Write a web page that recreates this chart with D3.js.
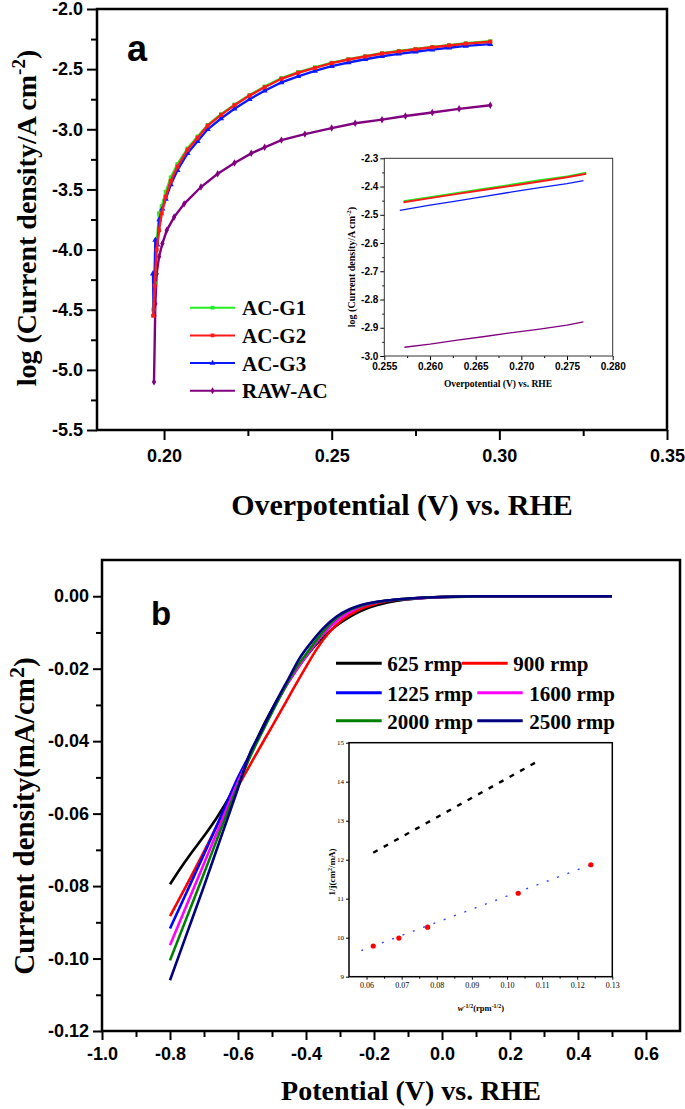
<!DOCTYPE html>
<html><head><meta charset="utf-8">
<script src="https://cdn.jsdelivr.net/npm/d3@7/dist/d3.min.js"></script>
<style>body{margin:0;background:#fff;}svg{display:block;background:#fff;}</style>
</head><body>
<svg id="c" width="685" height="1109"></svg>
<script>
// ---------- Panel a data ----------
const seriesA = ["AC-G1", "AC-G2", "AC-G3", "RAW-AC"];
const colorsA = ["#22ee22", "#ff1a1a", "#0a1aff", "#800080"];
const xTicksA = [0.20, 0.25, 0.30, 0.35];
const xMinorA = [0.225, 0.275, 0.325];
const yTicksA = [-5.5, -5.0, -4.5, -4.0, -3.5, -3.0, -2.5, -2.0];
const yMinorA = [-5.25, -4.75, -4.25, -3.75, -3.25, -2.75, -2.25];
const acG1 = [[0.1968,-4.50],[0.1972,-4.28],[0.1978,-3.95],[0.1985,-3.70],[0.1993,-3.64],[0.2005,-3.52],[0.2020,-3.40],[0.2040,-3.29],[0.2070,-3.16],[0.2100,-3.06],[0.2130,-2.965],[0.2170,-2.875],[0.2210,-2.795],[0.2255,-2.715],[0.2300,-2.645],[0.2350,-2.575],[0.2400,-2.525],[0.2450,-2.485],[0.2500,-2.447],[0.2550,-2.417],[0.2600,-2.392],[0.2650,-2.367],[0.2700,-2.349],[0.2750,-2.332],[0.2800,-2.315],[0.2850,-2.300],[0.2900,-2.285],[0.2973,-2.268]];
const acG2 = [[0.1968,-4.55],[0.1972,-4.30],[0.1978,-4.00],[0.1985,-3.84],[0.1993,-3.70],[0.2005,-3.56],[0.2020,-3.43],[0.2040,-3.31],[0.2070,-3.17],[0.2100,-3.07],[0.2130,-2.97],[0.2170,-2.88],[0.2210,-2.80],[0.2255,-2.72],[0.2300,-2.65],[0.2350,-2.58],[0.2400,-2.53],[0.2450,-2.49],[0.2500,-2.45],[0.2550,-2.42],[0.2600,-2.395],[0.2650,-2.37],[0.2700,-2.352],[0.2750,-2.335],[0.2800,-2.318],[0.2850,-2.303],[0.2900,-2.288],[0.2973,-2.272]];
const acG3 = [[0.1967,-4.20],[0.1969,-4.54],[0.1974,-3.92],[0.1980,-3.96],[0.1986,-3.75],[0.1995,-3.66],[0.2005,-3.58],[0.2020,-3.46],[0.2040,-3.34],[0.2070,-3.20],[0.2100,-3.10],[0.2130,-3.00],[0.2170,-2.91],[0.2210,-2.83],[0.2255,-2.75],[0.2300,-2.68],[0.2350,-2.61],[0.2400,-2.56],[0.2450,-2.515],[0.2500,-2.475],[0.2550,-2.445],[0.2600,-2.418],[0.2650,-2.393],[0.2700,-2.373],[0.2750,-2.355],[0.2800,-2.338],[0.2850,-2.322],[0.2900,-2.307],[0.2973,-2.292]];
const rawAC = [[0.1970,-5.10],[0.1974,-4.45],[0.1978,-4.20],[0.1985,-4.06],[0.1995,-3.95],[0.2008,-3.84],[0.2030,-3.73],[0.2060,-3.62],[0.2110,-3.48],[0.2160,-3.37],[0.2210,-3.28],[0.2260,-3.20],[0.2300,-3.15],[0.2350,-3.09],[0.2420,-3.04],[0.2500,-2.99],[0.2570,-2.95],[0.2650,-2.92],[0.2720,-2.89],[0.2800,-2.86],[0.2880,-2.83],[0.2973,-2.80]];

// ---------- Inset a data ----------
const xTicksIA = [0.255, 0.260, 0.265, 0.270, 0.275, 0.280];
const yTicksIA = [-3.0, -2.9, -2.8, -2.7, -2.6, -2.5, -2.4, -2.3];
const insG1 = [[0.2571,-2.452],[0.2600,-2.438],[0.2630,-2.423],[0.2660,-2.408],[0.2690,-2.393],[0.2720,-2.378],[0.2750,-2.364],[0.2771,-2.351]];
const insG2 = [[0.2571,-2.456],[0.2600,-2.441],[0.2630,-2.426],[0.2660,-2.411],[0.2690,-2.397],[0.2720,-2.382],[0.2750,-2.367],[0.2771,-2.355]];
const insG3 = [[0.2567,-2.484],[0.2600,-2.466],[0.2630,-2.451],[0.2660,-2.435],[0.2690,-2.419],[0.2720,-2.404],[0.2750,-2.390],[0.2768,-2.379]];
const insRAW = [[0.2572,-2.969],[0.2600,-2.958],[0.2630,-2.944],[0.2660,-2.931],[0.2690,-2.917],[0.2720,-2.905],[0.2750,-2.891],[0.2768,-2.879]];

// ---------- Panel b data ----------
const seriesB = ["625 rmp", "900 rmp", "1225 rmp", "1600 rmp", "2000 rmp", "2500 rmp"];
const colorsB = ["#000000", "#ff0000", "#0000ff", "#ff00ff", "#008000", "#000080"];
const xTicksB = [-1.0, -0.8, -0.6, -0.4, -0.2, 0.0, 0.2, 0.4, 0.6];
const xMinorB = [-0.9, -0.7, -0.5, -0.3, -0.1, 0.1, 0.3, 0.5];
const yTicksB = [0.00, -0.02, -0.04, -0.06, -0.08, -0.10, -0.12];
const yMinorB = [-0.01, -0.03, -0.05, -0.07, -0.09, -0.11];
const rpm625 = [[-0.80,-0.0795],[-0.77,-0.0752],[-0.74,-0.0712],[-0.70,-0.0662],[-0.66,-0.0608],[-0.62,-0.0545],[-0.59,-0.0490],[-0.56,-0.0427],[-0.52,-0.0347],[-0.49,-0.0295],[-0.46,-0.0248],[-0.43,-0.0205],[-0.40,-0.0167],[-0.37,-0.0133],[-0.34,-0.0105],[-0.31,-0.0081],[-0.28,-0.0062],[-0.25,-0.0046],[-0.22,-0.0033],[-0.19,-0.0024],[-0.16,-0.0017],[-0.12,-0.0011],[-0.08,-0.0007],[-0.04,-0.0004],[0.00,-0.0002],[0.10,-0.0001],[0.30,0],[0.50,0]];
const rpm900 = [[-0.80,-0.0883],[-0.75,-0.0795],[-0.70,-0.0705],[-0.65,-0.0612],[-0.60,-0.0525],[-0.56,-0.0458],[-0.52,-0.0392],[-0.48,-0.0327],[-0.44,-0.0260],[-0.40,-0.0195],[-0.37,-0.0148],[-0.33,-0.0098],[-0.29,-0.0063],[-0.25,-0.0040],[-0.20,-0.0022],[-0.15,-0.0012],[-0.08,-0.0006],[0.00,-0.0002],[0.10,0],[0.30,0],[0.50,0]];
const rpm1225 = [[-0.80,-0.0917],[-0.75,-0.0815],[-0.70,-0.0712],[-0.65,-0.0607],[-0.60,-0.0500],[-0.56,-0.0428],[-0.50,-0.0315],[-0.45,-0.0232],[-0.40,-0.0163],[-0.35,-0.0103],[-0.30,-0.0060],[-0.25,-0.0032],[-0.20,-0.0018],[-0.15,-0.0011],[-0.08,-0.0006],[0.00,-0.0002],[0.10,0],[0.30,0],[0.50,0]];
const rpm1600 = [[-0.80,-0.0963],[-0.75,-0.0850],[-0.70,-0.0738],[-0.65,-0.0625],[-0.60,-0.0512],[-0.56,-0.0432],[-0.50,-0.0318],[-0.45,-0.0235],[-0.40,-0.0166],[-0.35,-0.0105],[-0.30,-0.0061],[-0.25,-0.0033],[-0.20,-0.0018],[-0.15,-0.0011],[-0.08,-0.0006],[0.00,-0.0002],[0.10,0],[0.30,0],[0.50,0]];
const rpm2000 = [[-0.80,-0.1005],[-0.75,-0.0885],[-0.70,-0.0765],[-0.65,-0.0642],[-0.60,-0.0522],[-0.56,-0.0434],[-0.52,-0.0358],[-0.48,-0.0284],[-0.44,-0.0214],[-0.40,-0.0160],[-0.36,-0.0110],[-0.32,-0.0068],[-0.28,-0.0042],[-0.23,-0.0024],[-0.18,-0.0014],[-0.12,-0.0008],[-0.06,-0.0004],[0.00,-0.0002],[0.10,0],[0.30,0],[0.50,0]];
const rpm2500 = [[-0.80,-0.1060],[-0.75,-0.0930],[-0.70,-0.0800],[-0.65,-0.0665],[-0.60,-0.0530],[-0.567,-0.0438],[-0.53,-0.0370],[-0.488,-0.0291],[-0.45,-0.0225],[-0.42,-0.0173],[-0.38,-0.0122],[-0.351,-0.0090],[-0.31,-0.0056],[-0.272,-0.0036],[-0.22,-0.0020],[-0.174,-0.0013],[-0.12,-0.0008],[-0.076,-0.0005],[0.00,-0.0002],[0.10,0],[0.30,0],[0.50,0]];

// ---------- Inset b data ----------
const xTicksIB = [0.06, 0.07, 0.08, 0.09, 0.10, 0.11, 0.12, 0.13];
const yTicksIB = [9, 10, 11, 12, 13, 14, 15];
const klX = [0.0619, 0.0692, 0.0774, 0.1032, 0.1239];
const klY = [9.787, 9.99, 10.27, 11.14, 11.87];
const fitLine = [[0.0585, 9.67], [0.1239, 11.87]];
const theoryLine = [[0.0619, 12.18], [0.1085, 14.51]];

// ---------- drawing ----------
const SANS = "'Liberation Sans', Arial, sans-serif";
const SERIF = "'Liberation Serif', 'Times New Roman', serif";
const hy = f => d => f(d).replace("\u2212", "-");
const svg = d3.select("#c");

function styleAxis(g, size, family, weight, sw) {
  g.select(".domain").remove();
  g.selectAll(".tick line").attr("stroke", "#000").attr("stroke-width", sw);
  g.selectAll(".tick text").attr("fill", "#000").style("font-family", family)
    .style("font-size", size + "px").style("font-weight", weight);
}
function minor(g, axis) { g.call(axis); g.select(".domain").remove(); g.selectAll("text").remove(); }

// ===== Panel a =====
const xA = d3.scaleLinear().domain([0.18, 0.35]).range([97, 667]);
const yA = d3.scaleLinear().domain([-5.5, -2.0]).range([430, 9]);
const gA = svg.append("g");
const lineA = d3.line().x(d => xA(d[0])).y(d => yA(d[1]));
const dataA = [acG1, acG2, acG3, rawAC];
const symA = [d3.symbolSquare, d3.symbolSquare, d3.symbolTriangle, d3.symbolDiamond];
[3, 0, 2, 1].forEach(i => {
  gA.append("path").datum(dataA[i]).attr("d", lineA).attr("fill", "none")
    .attr("stroke", colorsA[i]).attr("stroke-width", 2.4);
  gA.append("g").selectAll("path").data(dataA[i]).join("path")
    .attr("transform", d => `translate(${xA(d[0])},${yA(d[1])})`)
    .attr("d", d3.symbol(symA[i], 16)).attr("fill", colorsA[i]);
});
gA.append("g").attr("transform", "translate(0,430)")
  .call(d3.axisBottom(xA).tickValues(xTicksA).tickSize(10).tickPadding(9).tickFormat(d3.format(".2f")))
  .call(g => styleAxis(g, 18, SANS, "bold", 2));
gA.append("g").attr("transform", "translate(0,430)")
  .call(g => minor(g, d3.axisBottom(xA).tickValues(xMinorA).tickSize(6)))
  .call(g => g.selectAll("line").attr("stroke-width", 2));
gA.append("g").attr("transform", "translate(97,0)")
  .call(d3.axisLeft(yA).tickValues(yTicksA).tickSize(10).tickPadding(4).tickFormat(hy(d3.format(".1f"))))
  .call(g => styleAxis(g, 18, SANS, "bold", 2));
gA.append("g").attr("transform", "translate(97,0)")
  .call(g => minor(g, d3.axisLeft(yA).tickValues(yMinorA).tickSize(6)))
  .call(g => g.selectAll("line").attr("stroke-width", 2));
gA.append("rect").attr("x", xA(0.18)).attr("y", yA(-2.0)).attr("width", xA(0.35) - xA(0.18))
  .attr("height", yA(-5.5) - yA(-2.0)).attr("fill", "none").attr("stroke", "#000").attr("stroke-width", 2.5);
gA.append("text").attr("x", 127).attr("y", 61).text("a")
  .style("font-family", SANS).style("font-weight", "bold").style("font-size", "36px");
gA.append("text").attr("x", 402).attr("y", 515).attr("text-anchor", "middle")
  .text("Overpotential (V) vs. RHE")
  .style("font-family", SERIF).style("font-weight", "bold").style("font-size", "30px");
const ytA = gA.append("text").attr("transform", "translate(36,218) rotate(-90)").attr("text-anchor", "middle")
  .style("font-family", SERIF).style("font-weight", "bold").style("font-size", "28px");
ytA.append("tspan").text("log (Current density/A cm");
ytA.append("tspan").attr("dy", -11).style("font-size", "19px").text("-2");
ytA.append("tspan").attr("dy", 11).text(")");
// legend a
const legA = gA.append("g");
seriesA.forEach((name, i) => {
  const y = 307.7 + i * 27.7;
  legA.append("line").attr("x1", 190).attr("x2", 235).attr("y1", y).attr("y2", y)
    .attr("stroke", colorsA[i]).attr("stroke-width", 2);
  legA.append("path").attr("transform", `translate(212.5,${y})`).attr("d", d3.symbol(symA[i], 14)).attr("fill", colorsA[i]);
  legA.append("text").attr("x", 242).attr("y", y + 7.5).text(name)
    .style("font-family", SERIF).style("font-weight", "bold").style("font-size", "21px");
});
// inset a
const xIA = d3.scaleLinear().domain([0.255, 0.280]).range([384.3, 612.7]);
const yIA = d3.scaleLinear().domain([-3.0, -2.3]).range([356, 158.3]);
const gIA = svg.append("g");
const lineIA = d3.line().x(d => xIA(d[0])).y(d => yIA(d[1]));
const dataIA = [insG1, insG2, insG3, insRAW];
const widthIA = [2, 2, 1.3, 1.3];
dataIA.forEach((d, i) => gIA.append("path").datum(d).attr("d", lineIA).attr("fill", "none")
  .attr("stroke", colorsA[i]).attr("stroke-width", widthIA[i]));
gIA.append("g").attr("transform", "translate(0,356)")
  .call(d3.axisBottom(xIA).tickValues(xTicksIA).tickSize(4).tickPadding(3).tickFormat(d3.format(".3f")))
  .call(g => styleAxis(g, 10, SANS, "bold", 1));
gIA.append("g").attr("transform", "translate(384.3,0)")
  .call(d3.axisLeft(yIA).tickValues(yTicksIA).tickSize(4).tickPadding(2).tickFormat(hy(d3.format(".1f"))))
  .call(g => styleAxis(g, 10, SANS, "bold", 1));
gIA.append("g").attr("transform", "translate(0,356)")
  .call(g => minor(g, d3.axisBottom(xIA).tickValues(xTicksIA.slice(0, -1).map(v => v + 0.0025)).tickSize(2)));
gIA.append("g").attr("transform", "translate(384.3,0)")
  .call(g => minor(g, d3.axisLeft(yIA).tickValues(yTicksIA.slice(0, -1).map(v => v + 0.05)).tickSize(2)));
gIA.append("rect").attr("x", 384.3).attr("y", 158.3).attr("width", 612.7 - 384.3).attr("height", 356 - 158.3)
  .attr("fill", "none").attr("stroke", "#333").attr("stroke-width", 1);
gIA.append("text").attr("x", 498).attr("y", 387).attr("text-anchor", "middle")
  .text("Overpotential (V) vs. RHE")
  .style("font-family", SERIF).style("font-weight", "bold").style("font-size", "9.5px");
const ytIA = gIA.append("text").attr("transform", "translate(355,267) rotate(-90)").attr("text-anchor", "middle")
  .style("font-family", SERIF).style("font-weight", "bold").style("font-size", "10px");
ytIA.append("tspan").text("log (Current density/A cm");
ytIA.append("tspan").attr("dy", -4).style("font-size", "7px").text("-2");
ytIA.append("tspan").attr("dy", 4).text(")");

// ===== Panel b =====
const xB = d3.scaleLinear().domain([-1.0, 0.7]).range([102, 680]);
const yB = d3.scaleLinear().domain([-0.12, 0.01]).range([1031, 560]);
const gB = svg.append("g");
const lineB = d3.line().curve(d3.curveMonotoneX).x(d => xB(d[0])).y(d => yB(d[1]));
const dataB = [rpm625, rpm900, rpm1225, rpm1600, rpm2000, rpm2500];
dataB.forEach((d, i) => gB.append("path").datum(d).attr("d", lineB).attr("fill", "none")
  .attr("stroke", colorsB[i]).attr("stroke-width", 2.6));
gB.append("g").attr("transform", "translate(0,1031)")
  .call(d3.axisBottom(xB).tickValues(xTicksB).tickSize(9).tickPadding(7).tickFormat(hy(d3.format(".1f"))))
  .call(g => styleAxis(g, 18, SANS, "bold", 2));
gB.append("g").attr("transform", "translate(0,1031)")
  .call(g => minor(g, d3.axisBottom(xB).tickValues(xMinorB).tickSize(6)))
  .call(g => g.selectAll("line").attr("stroke-width", 2));
gB.append("g").attr("transform", "translate(102,0)")
  .call(d3.axisLeft(yB).tickValues(yTicksB).tickSize(9).tickPadding(4).tickFormat(hy(d3.format(".2f"))))
  .call(g => styleAxis(g, 18, SANS, "bold", 2));
gB.append("g").attr("transform", "translate(102,0)")
  .call(g => minor(g, d3.axisLeft(yB).tickValues(yMinorB).tickSize(6)))
  .call(g => g.selectAll("line").attr("stroke-width", 2));
gB.append("rect").attr("x", 102).attr("y", 560).attr("width", 578).attr("height", 471)
  .attr("fill", "none").attr("stroke", "#000").attr("stroke-width", 2.5);
gB.append("text").attr("x", 151).attr("y", 625).text("b")
  .style("font-family", SANS).style("font-weight", "bold").style("font-size", "33px");
gB.append("text").attr("x", 411).attr("y", 1100).attr("text-anchor", "middle")
  .text("Potential (V) vs. RHE")
  .style("font-family", SERIF).style("font-weight", "bold").style("font-size", "28px");
const ytB = gB.append("text").attr("transform", "translate(34,816) rotate(-90)").attr("text-anchor", "middle")
  .style("font-family", SERIF).style("font-weight", "bold").style("font-size", "29px");
ytB.append("tspan").text("Current density(mA/cm");
ytB.append("tspan").attr("dy", -10).style("font-size", "22px").text("2");
ytB.append("tspan").attr("dy", 10).text(")");
// legend b
const legPos = [[336, 381.7, 387.3, 663.3], [461.7, 507.7, 513.3, 663.3], [336, 381.7, 387.3, 692.7],
                [477.3, 522.7, 529.3, 692.7], [336, 381.7, 387.3, 720.7], [477.3, 522.7, 529.3, 720.7]];
seriesB.forEach((name, i) => {
  const p = legPos[i];
  gB.append("line").attr("x1", p[0]).attr("x2", p[1]).attr("y1", p[3]).attr("y2", p[3])
    .attr("stroke", colorsB[i]).attr("stroke-width", 3);
  gB.append("text").attr("x", p[2]).attr("y", p[3] + 8).text(name)
    .style("font-family", SERIF).style("font-weight", "bold").style("font-size", "21px");
});
// inset b
const xIB = d3.scaleLinear().domain([0.055, 0.13]).range([349, 612.3]);
const yIB = d3.scaleLinear().domain([9, 15]).range([976.7, 742.7]);
const gIB = svg.append("g");
const lineIB = d3.line().x(d => xIB(d[0])).y(d => yIB(d[1]));
gIB.append("path").datum(theoryLine).attr("d", lineIB).attr("stroke", "#000").attr("stroke-width", 2.4)
  .attr("stroke-dasharray", "5,7").attr("fill", "none");
gIB.append("path").datum(fitLine).attr("d", lineIB).attr("stroke", "#3344ff").attr("stroke-width", 1.4)
  .attr("stroke-dasharray", "2,9").attr("fill", "none");
gIB.selectAll("circle").data(klX).join("circle").attr("cx", d => xIB(d)).attr("cy", (d, i) => yIB(klY[i]))
  .attr("r", 2.6).attr("fill", "#ff0000");
gIB.append("g").attr("transform", "translate(0,976.7)")
  .call(d3.axisBottom(xIB).tickValues(xTicksIB).tickSize(3).tickPadding(3).tickFormat(d3.format(".2f")))
  .call(g => styleAxis(g, 8, SERIF, "normal", 1));
gIB.append("g").attr("transform", "translate(0,976.7)")
  .call(g => minor(g, d3.axisBottom(xIB).tickValues(xTicksIB.slice(0, -1).map(v => v + 0.005)).tickSize(2)));
gIB.append("g").attr("transform", "translate(349,0)")
  .call(d3.axisLeft(yIB).tickValues(yTicksIB).tickSize(3).tickPadding(2).tickFormat(d3.format("d")))
  .call(g => styleAxis(g, 7, SERIF, "normal", 1));
gIB.append("rect").attr("x", 349).attr("y", 742.7).attr("width", 612.3 - 349).attr("height", 976.7 - 742.7)
  .attr("fill", "none").attr("stroke", "#000").attr("stroke-width", 1.5);
const ytIB = gIB.append("text").attr("transform", "translate(335,872) rotate(-90)").attr("text-anchor", "middle")
  .style("font-family", SERIF).style("font-weight", "bold").style("font-size", "9px");
ytIB.append("tspan").text("1/j(cm");
ytIB.append("tspan").attr("dy", -3).style("font-size", "6px").text("2");
ytIB.append("tspan").attr("dy", 3).text("/mA)");
const xtIB = gIB.append("text").attr("x", 481).attr("y", 1011).attr("text-anchor", "middle")
  .style("font-family", SERIF).style("font-weight", "bold").style("font-size", "8.5px");
xtIB.append("tspan").style("font-style", "italic").text("w");
xtIB.append("tspan").attr("dy", -3).style("font-size", "6px").text("-1/2");
xtIB.append("tspan").attr("dy", 3).text("(rpm");
xtIB.append("tspan").attr("dy", -3).style("font-size", "6px").text("-1/2");
xtIB.append("tspan").attr("dy", 3).text(")");
</script>
</body></html>
